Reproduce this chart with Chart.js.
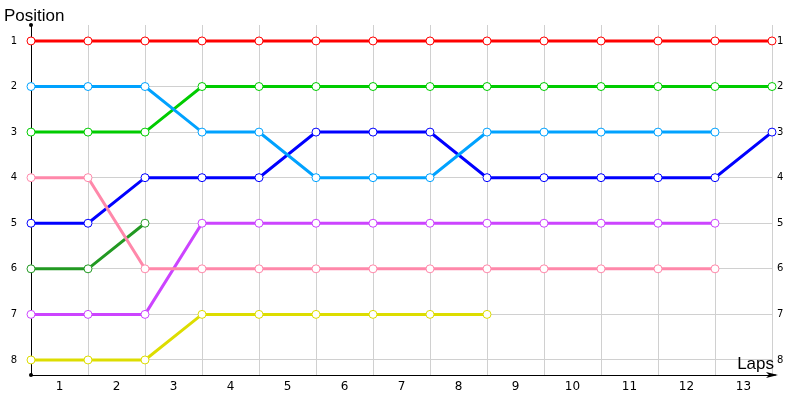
<!DOCTYPE html>
<html>
<head>
<meta charset="utf-8">
<script src="https://cdn.jsdelivr.net/npm/chart.js@4"></script>
<style>
  body { margin: 0; background: #fff; }
  #wrap { width: 800px; height: 400px; }
</style>
</head>
<body>
<div id="wrap"><canvas id="myChart"></canvas></div>
<script>
// grid points (lap boundaries) and lap labels
var punkty = [0, 1, 2, 3, 4, 5, 6, 7, 8, 9, 10, 11, 12, 13];
var okrazenia = ['1', '2', '3', '4', '5', '6', '7', '8', '9', '10', '11', '12', '13'];
var pozycje = [1, 2, 3, 4, 5, 6, 7, 8];

// positions per driver
var czerwony = [1, 1, 1, 1, 1, 1, 1, 1, 1, 1, 1, 1, 1, 1];
var jasnyNiebieski = [2, 2, 2, 3, 3, 4, 4, 4, 3, 3, 3, 3, 3];
var zielony = [3, 3, 3, 2, 2, 2, 2, 2, 2, 2, 2, 2, 2, 2];
var rozowy = [4, 4, 6, 6, 6, 6, 6, 6, 6, 6, 6, 6, 6];
var niebieski = [5, 5, 4, 4, 4, 3, 3, 3, 4, 4, 4, 4, 4, 3];
var ciemnyZielony = [6, 6, 5];
var fioletowy = [7, 7, 7, 5, 5, 5, 5, 5, 5, 5, 5, 5, 5];
var zolty = [8, 8, 8, 7, 7, 7, 7, 7, 7];

function seria(dane, kolor) {
    return {
        data: dane,
        borderColor: kolor,
        backgroundColor: '#ffffff',
        pointBorderColor: kolor,
        pointBackgroundColor: '#ffffff',
        pointRadius: 4,
        pointBorderWidth: 1,
        borderWidth: 3,
        tension: 0,
        clip: false
    };
}

var osie = {
    id: 'osie',
    afterDraw: function (chart) {
        var c = chart.ctx;
        var a = chart.chartArea;
        c.save();
        c.fillStyle = '#000';
        c.strokeStyle = '#000';
        c.lineWidth = 1;
        // dots at the ends of the y axis
        c.beginPath(); c.arc(a.left, a.top, 2, 0, Math.PI * 2); c.fill();
        c.beginPath(); c.arc(a.left, a.bottom, 2, 0, Math.PI * 2); c.fill();
        // x axis arrow
        c.beginPath(); c.moveTo(a.right, a.bottom); c.lineTo(a.right + 4, a.bottom); c.stroke();
        c.beginPath();
        c.moveTo(a.right + 6, a.bottom);
        c.lineTo(a.right - 6, a.bottom - 3);
        c.lineTo(a.right - 3, a.bottom);
        c.lineTo(a.right - 6, a.bottom + 3);
        c.closePath();
        c.fill();
        // axis titles
        c.font = '17px "Liberation Sans"';
        c.textBaseline = 'alphabetic';
        c.textAlign = 'left';
        c.fillText('Position', 4, 21);
        c.textAlign = 'right';
        c.fillText('Laps', a.right + 2, a.bottom - 6);
        c.restore();
    }
};

let ctx = document.getElementById('myChart').getContext('2d');
let myChart = new Chart(ctx, {
    type: 'line',
    data: {
        labels: punkty,
        datasets: [
            seria(czerwony, '#ff0000'),
            seria(jasnyNiebieski, '#00a2ff'),
            seria(zielony, '#00cc00'),
            seria(rozowy, '#ff88aa'),
            seria(niebieski, '#0000ff'),
            seria(ciemnyZielony, '#229922'),
            seria(fioletowy, '#cc44ff'),
            seria(zolty, '#dddd00')
        ]
    },
    plugins: [osie],
    options: {
        responsive: true,
        maintainAspectRatio: false,
        animation: false,
        layout: { padding: { top: 25, left: 0, right: 0, bottom: 0 } },
        plugins: {
            legend: { display: false },
            tooltip: { enabled: false }
        },
        scales: {
            x: {
                type: 'linear',
                min: 0,
                max: 13,
                position: 'bottom',
                ticks: { display: false, stepSize: 1 },
                grid: { color: '#d0d0d0', drawTicks: false },
                border: { color: '#000000', width: 1 },
                afterFit: function (s) { s.height = 0; }
            },
            x2: {
                type: 'category',
                labels: okrazenia,
                offset: true,
                position: 'bottom',
                grid: { display: false, drawTicks: false },
                border: { display: false },
                ticks: { color: '#000', padding: 5, font: { family: 'DejaVu Sans', size: 12 } },
                afterFit: function (s) { s.height = 25; }
            },
            y: {
                type: 'linear',
                reverse: true,
                min: 0.65,
                max: 8.33,
                position: 'left',
                afterBuildTicks: function (s) { s.ticks = pozycje.map(function (v) { return { value: v }; }); },
                ticks: { color: '#000', padding: 14, font: { family: 'DejaVu Sans', size: 10 } },
                grid: { color: '#d0d0d0', drawTicks: false },
                border: { color: '#000000', width: 1 },
                afterFit: function (s) { s.width = 31; }
            },
            y2: {
                type: 'linear',
                reverse: true,
                min: 0.65,
                max: 8.33,
                position: 'right',
                afterBuildTicks: function (s) { s.ticks = pozycje.map(function (v) { return { value: v }; }); },
                ticks: { color: '#000', padding: 5, font: { family: 'DejaVu Sans', size: 10 } },
                grid: { display: false, drawTicks: false },
                border: { display: false },
                afterFit: function (s) { s.width = 28; }
            }
        }
    }
});
</script>
</body>
</html>
